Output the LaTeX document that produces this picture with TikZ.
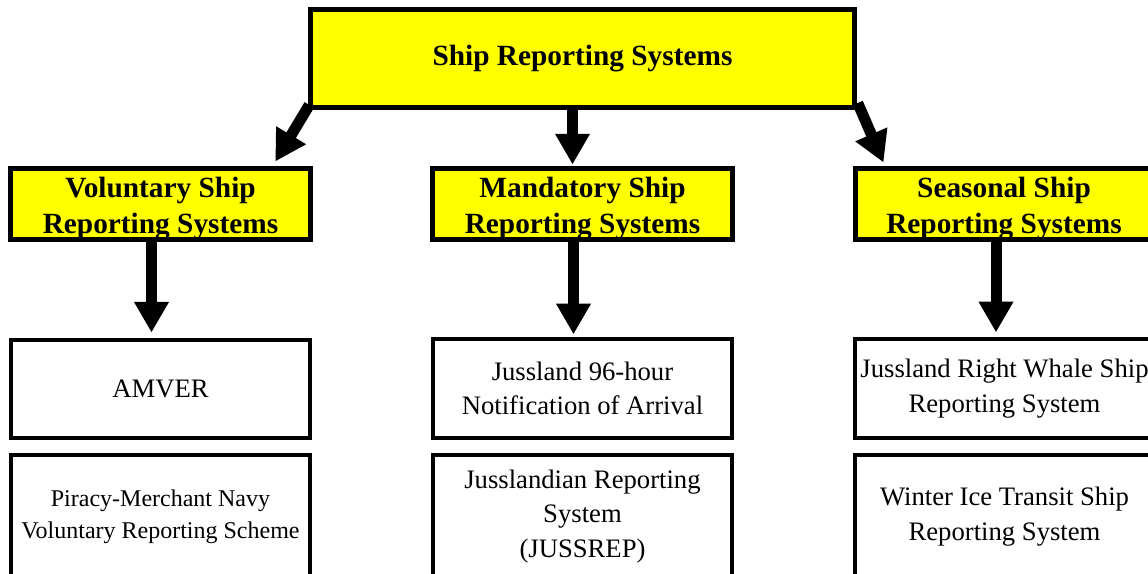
\documentclass[tikz,border=0pt]{standalone}
\usepackage{fontspec}
\setmainfont{Liberation Serif}
\usetikzlibrary{arrows.meta,calc}
\definecolor{boxyellow}{RGB}{255,255,0}
\pgfdeclarelayer{bg}
\pgfsetlayers{bg,main}
\begin{document}
\begin{tikzpicture}[x=0.75pt,y=-0.75pt,
  ybox/.style={draw=black,fill=boxyellow,line width=3.75pt,rectangle,inner sep=0pt},
  wbox/.style={draw=black,fill=white,line width=3pt,rectangle,inner sep=0pt},
  bigarrow/.style={line width=8.25pt,-{Triangle[length=23pt,width=24.5pt]}},
  headtxt/.style={font=\fontsize{22}{27}\selectfont\bfseries,align=center,inner sep=0pt},
  bodytxt/.style={font=\fontsize{20}{26}\selectfont,align=center,inner sep=0pt},
  smalltxt/.style={font=\fontsize{18}{24}\selectfont,align=center,inner sep=0pt}]
\useasboundingbox (0,0) rectangle (1148,574);
\clip (0,0) rectangle (1148,574);

% top
\node[ybox,minimum width=407.55pt,minimum height=73.3pt,
  font=\fontsize{22}{27}\selectfont\bfseries] (top) at (582.5,58.6) {Ship Reporting Systems};

% level 2
\node[ybox,minimum width=224.4pt,minimum height=53.6pt] (vol) at (160.5,204.25) {};
\node[ybox,minimum width=224.4pt,minimum height=53.6pt] (mand) at (582.5,204.25) {};
\node[ybox,minimum width=221.25pt,minimum height=53.6pt] (seas) at (1002.5,204.25) {};
\node[headtxt] (volt) at ($(vol.center)+(0,4)$) {Voluntary Ship\\Reporting Systems};
\node[headtxt] (mandt) at ($(mand.center)+(0,4)$) {Mandatory Ship\\Reporting Systems};
\node[headtxt] (seast) at ($(seas.center)+(1.5,4)$) {Seasonal Ship\\Reporting Systems};

% level 3
\node[wbox,minimum width=224.25pt,minimum height=73.7pt,bodytxt] (amver) at (160.5,388.7) {AMVER};
\node[wbox,minimum width=224.25pt,minimum height=73.7pt,bodytxt] (notif) at (582.5,388.5) {Jussland 96-hour\\Notification of Arrival};
\node[wbox,minimum width=224.25pt,minimum height=73.7pt,bodytxt] (whale) at (1004.5,388.5) {Jussland Right Whale Ship\\Reporting System};

% level 4
\node[wbox,minimum width=224.25pt,minimum height=93pt,smalltxt] (piracy) at (160.5,516.5) {Piracy-Merchant Navy\\Voluntary Reporting Scheme};
\node[wbox,minimum width=224.25pt,minimum height=93pt,bodytxt] (jussrep) at (582.5,516.5) {Jusslandian Reporting\\System\\(JUSSREP)};
\node[wbox,minimum width=224.25pt,minimum height=93pt,bodytxt] (winter) at (1004.5,516.5) {Winter Ice Transit Ship\\Reporting System};

% arrows
\begin{pgfonlayer}{bg}
\draw[bigarrow] ($(top.south west)+(1,-5)$) -- ($(vol.north east)+(-37.3,-4.5)$);
\draw[bigarrow] ($(top.south)+(-10,0)$) -- ($(mand.north)+(-10,-1.5)$);
\draw[bigarrow] ($(top.south east)+(1,-7)$) -- ($(seas.north west)+(31,-3.5)$);
\draw[bigarrow] ($(vol.south)+(-9,0)$) -- ($(amver.north)+(-9,-5)$);
\draw[bigarrow] ($(mand.south)+(-9,0)$) -- ($(notif.north)+(-9,-3)$);
\draw[bigarrow] ($(seas.south)+(-6.5,0)$) -- ($(whale.north)+(-8.5,-5)$);
\end{pgfonlayer}
\end{tikzpicture}
\end{document}
